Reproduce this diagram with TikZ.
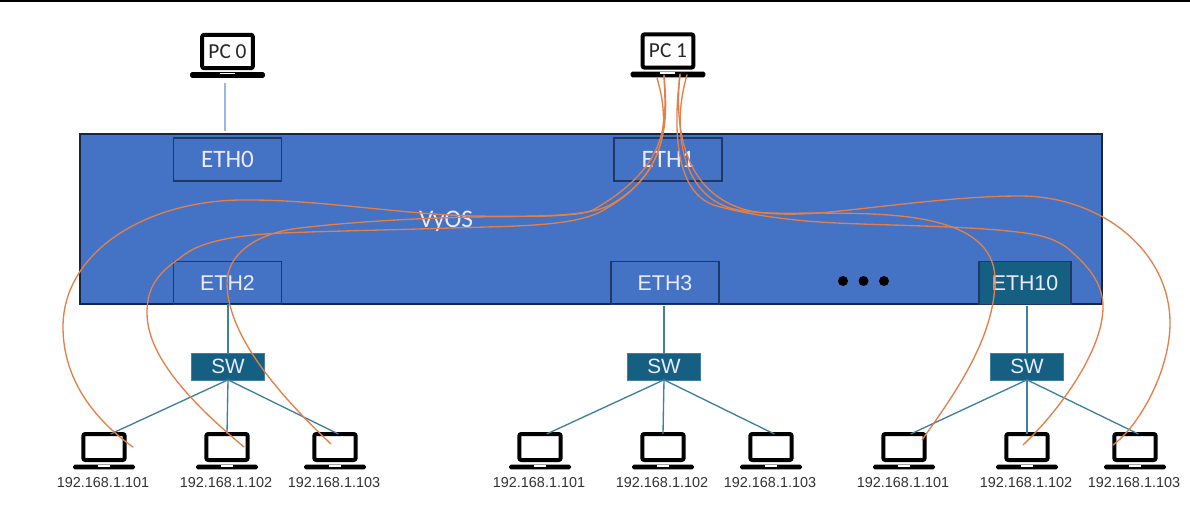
\documentclass[tikz,border=0pt]{standalone}
\usepackage{fontspec}
\setmainfont{Liberation Sans}
\newfontfamily\calib{Carlito}
\definecolor{vyblue}{HTML}{4472C4}
\definecolor{boxline}{HTML}{1F3864}
\definecolor{swteal}{HTML}{156082}
\definecolor{wire}{HTML}{3F80A0}
\definecolor{orng}{HTML}{E2804A}
\definecolor{paleblue}{HTML}{9DB7E0}
\tikzset{
  x=0.75pt, y=-0.75pt,
  every node/.style={inner sep=0pt, outer sep=0pt},
  chassis/.style={draw=boxline!70!black, line width=1.6pt, fill=vyblue},
  ethbox/.style={draw=boxline, line width=1.2pt, text=white!92!blue, minimum width=81pt, minimum height=32pt, font=\fontsize{16}{18}\selectfont},
  ethbig/.style={ethbox, font=\calib\fontsize{18.8}{20}\selectfont},
  swbox/.style={draw=swteal!80!white, fill=swteal, text=white!92!blue, minimum width=55pt, minimum height=20pt, font=\fontsize{15.5}{17}\selectfont},
  screen/.style={draw=black, fill=white, line width=3pt, rounded corners=1.5pt},
  smallscreen/.style={screen, minimum width=31pt, minimum height=19.5pt},
  bigscreen/.style={screen, minimum width=38pt, minimum height=25pt, text=black!85, font=\calib\fontsize{16}{18}\selectfont},
  laptopbase/.style={fill=black, rounded corners=1.2pt},
  smallbase/.style={laptopbase, minimum width=46.5pt, minimum height=3.4pt},
  bigbase/.style={laptopbase, minimum width=56pt, minimum height=4.2pt},
  iplabel/.style={text=black!80, font=\fontsize{10.8}{12}\selectfont},
  netline/.style={draw=wire, line width=1pt},
  fibre/.style={draw=orng, line width=1pt, line cap=round, line join=round},
  dot/.style={circle, fill=black, minimum size=7.5pt}
}
\newcommand{\smalllaptop}[3]{%
  \node[smallscreen] (#1) at (#2,447) {};
  \node[smallbase] (#1b) at (#2,467) {};
  \fill[white] (#2-6,465) rectangle (#2+6,466.5);
  \node[iplabel] (#1t) at (#2-1,483) {#3};
}
\newcommand{\netgroup}[5]{%
  \node[swbox] (sw#1) at (#2,366.5) {SW};
  \smalllaptop{l#1a}{#3}{192.168.1.101}
  \smalllaptop{l#1b}{#4}{192.168.1.102}
  \smalllaptop{l#1c}{#5}{192.168.1.103}
  \draw[netline] (sw#1.south) -- ([xshift=5pt]l#1a.north);
  \draw[netline] (sw#1.south) -- (l#1b.north);
  \draw[netline] (sw#1.south) -- ([xshift=2.5pt]l#1c.north);
}
\begin{document}
\begin{tikzpicture}
\useasboundingbox (0,0) rectangle (1190,507);
\fill[white] (0,0) rectangle (1190,507);
\fill[black] (0,0) rectangle (1190,1.5);

\node[chassis, minimum width=767pt, minimum height=127.5pt] (vyos) at (591,219) {};
\node[text=white!92!blue, font=\calib\fontsize{19}{21}\selectfont] (vylabel) at (446,221) {VyOS};

\node[ethbig] (eth0) at (227.5,159.5) {ETH0};
\node[ethbig] (eth1) at (668,159.5) {ETH1};
\node[ethbox] (eth2) at (227.5,283) {ETH2};
\node[ethbox] (eth3) at (665,283) {ETH3};
\node[ethbox, fill=swteal, minimum width=69pt] (eth10) at (1025,283) {ETH10};

\node[dot] (d1) at (843,281) {};
\node[dot] (d2) at (863.5,281) {};
\node[dot] (d3) at (884,281) {};

% PCs
\node[bigscreen] (pc0) at (227.5,51.5) {PC 0};
\node[bigbase] (pc0b) at (227.5,75) {};
\fill[white] (220,72.6) rectangle (235,74);
\node[bigscreen] (pc1) at (668,51) {PC 1};
\node[bigbase] (pc1b) at (668,74.5) {};
\fill[white] (660,72.2) rectangle (675,73.6);

\coordinate (pc0s) at (225,83);
\coordinate (eth0n) at (225,131);
\draw[paleblue, line width=0.9pt] (pc0s) -- (eth0n);

\netgroup{A}{228}{104}{227}{335}
\netgroup{B}{664}{540}{663}{771}
\netgroup{C}{1027}{904}{1027}{1135}
\draw[netline] (swA.north |- eth2.south) -- (swA.north);
\draw[netline] ([yshift=-1.5pt]swB.north |- eth3.south) -- (swB.north);
\draw[netline] ([yshift=-1.5pt]swC.north |- eth10.south) -- (swC.north);

% fibre ends
\coordinate (p1) at (657,78);
\coordinate (p2) at (664,75);
\coordinate (p3) at (664,76);
\coordinate (q1) at (680,74);
\coordinate (q2) at (687,75);
\coordinate (q3) at (680,75);
\coordinate (a1) at (133,447);
\coordinate (a2) at (244,447);
\coordinate (a3) at (331,444);
\coordinate (c1) at (922,440);
\coordinate (c2) at (1023,445);
\coordinate (c3) at (1113,445);

\draw[fibre] (p1) .. controls (668,115) and (672,170) .. (610,205)
  .. controls (590,216) and (540,217) .. (473,216)
  .. controls (400,214) and (320,200) .. (250,200)
  .. controls (150,198) and (63,250) .. (63,327)
  .. controls (63,380) and (95,420) .. (a1);
\draw[fibre] (p2) .. controls (668,120) and (670,175) .. (600,212)
  .. controls (570,227) and (510,226) .. (450,228)
  .. controls (390,230) and (330,231) .. (283,233)
  .. controls (240,235) and (200,240) .. (180,258)
  .. controls (155,275) and (147,290) .. (147,313)
  .. controls (147,360) and (200,410) .. (a2);
\draw[fibre] (p3) .. controls (666,120) and (672,165) .. (593,210)
  .. controls (575,218) and (520,216) .. (473,217)
  .. controls (420,218) and (350,222) .. (300,228)
  .. controls (255,233) and (227,255) .. (227,283)
  .. controls (227,340) and (290,405) .. (a3);

\draw[fibre] (q1) .. controls (675,120) and (680,185) .. (737,207)
  .. controls (760,216) and (800,215) .. (830,212)
  .. controls (890,206) and (960,196) .. (1020,196)
  .. controls (1100,196) and (1170,250) .. (1170,323)
  .. controls (1170,370) and (1140,425) .. (c3);
\draw[fibre] (q2) .. controls (672,125) and (680,190) .. (727,207)
  .. controls (750,215) and (790,213) .. (820,213)
  .. controls (880,214) and (995,210) .. (995,280)
  .. controls (995,340) and (950,400) .. (c1);
\draw[fibre] (q3) .. controls (673,130) and (675,195) .. (717,206)
  .. controls (745,214) and (790,221) .. (837,223)
  .. controls (900,226) and (990,226) .. (1037,235)
  .. controls (1055,239) and (1065,245) .. (1073,253)
  .. controls (1090,268) and (1103,285) .. (1103,307)
  .. controls (1103,350) and (1060,410) .. (c2);
\end{tikzpicture}
\end{document}
